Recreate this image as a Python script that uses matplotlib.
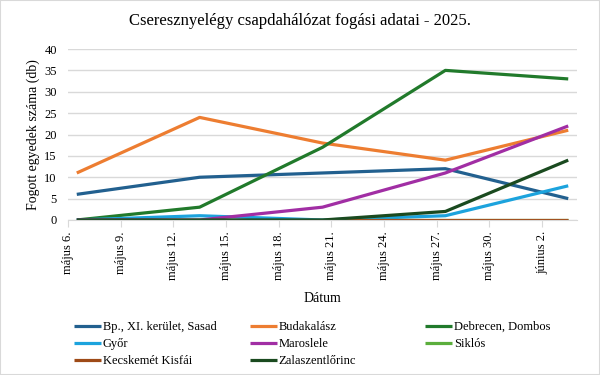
import matplotlib.pyplot as plt
import matplotlib.dates as mdates
from matplotlib.patches import Rectangle
import pandas as pd

plt.rcParams['font.family'] = ['Liberation Serif', 'DejaVu Serif']

# sampling dates (weekly)
dates = pd.to_datetime(['2025-05-06', '2025-05-13', '2025-05-20', '2025-05-27', '2025-06-03'])

bp_sasad = [6, 10, 11, 12, 5]
budakalasz = [11, 24, 18, 14, 21]
debrecen = [0, 3, 17, 35, 33]
gyor = [0, 1, 0, 1, 8]
maroslele = [0, 0, 3, 11, 22]
siklos = [0, 0, 0, 0, 0]
kecskemet = [0, 0, 0, 0, 0]
zalaszentlorinc = [0, 0, 0, 2, 14]

series = [
    ('Bp., XI. kerület, Sasad', bp_sasad, '#22608F'),
    ('Budakalász', budakalasz, '#ED7D31'),
    ('Debrecen, Dombos', debrecen, '#217A2B'),
    ('Győr', gyor, '#1CA3DD'),
    ('Maroslele', maroslele, '#A12EA4'),
    ('Siklós', siklos, '#5BAE3C'),
    ('Kecskemét Kisfái', kecskemet, '#9E4A17'),
    ('Zalaszentlőrinc', zalaszentlorinc, '#1A4A1F'),
]

fig = plt.figure(figsize=(6, 3.75), dpi=100)
ax = fig.add_axes([68 / 600, 1 - 220 / 375, (577 - 68) / 600, (220 - 49) / 375])

# Excel-style date axis: each point sits in the middle of its day
xs = dates + pd.Timedelta(hours=12)
handles = {}
for name, vals, color in series:
    h, = ax.plot(xs, vals, color=color, lw=2.3, solid_capstyle='butt', label=name)
    handles[name] = h

ax.set_xlim(pd.Timestamp('2025-05-06'), pd.Timestamp('2025-06-04'))
ax.set_ylim(0, 40)
ax.set_yticks(range(0, 41, 5))
ticks = pd.date_range('2025-05-06', '2025-06-02', freq='3D')
ax.set_xticks(ticks)
months = {5: 'május', 6: 'június'}
ax.set_xticklabels([f'{months[d.month]} {d.day}.' for d in ticks], rotation=90)

ax.grid(axis='y', color='#d9d9d9', lw=1)
ax.set_axisbelow(True)
for s in ['top', 'right', 'left']:
    ax.spines[s].set_visible(False)
ax.spines['bottom'].set_color('#d9d9d9')
ax.tick_params(axis='y', length=0, labelsize=9, pad=8)
ax.tick_params(axis='x', length=5, color='#d9d9d9', labelsize=9, pad=3)

ax.set_ylabel('Fogott egyedek száma (db)', fontsize=10)
ax.yaxis.set_label_coords(-0.055, 0.5)
fig.text(0.5 * (68 + 577) / 600, 1 - 298 / 375, 'Dátum', fontsize=10, ha='center', va='center')
fig.suptitle('Cseresznyelégy csapdahálózat fogási adatai - 2025.', fontsize=12, y=1 - 21 / 375, va='center')

# legend in three columns placed by hand
cols = [
    (74, ['Bp., XI. kerület, Sasad', 'Győr', 'Kecskemét Kisfái']),
    (250, ['Budakalász', 'Maroslele', 'Zalaszentlőrinc']),
    (425, ['Debrecen, Dombos', 'Siklós']),
]
for x0, names in cols:
    fig.legend([handles[n] for n in names], names, loc='upper left',
               bbox_to_anchor=(x0 / 600, 1 - 321 / 375), frameon=False,
               fontsize=9, handlelength=2.15, handletextpad=0.15,
               labelspacing=0.42, borderpad=0, borderaxespad=0)

fig.patches.append(Rectangle((0, 0), 1, 1, transform=fig.transFigure, fill=False,
                             edgecolor='#d9d9d9', lw=1.5))

fig.savefig('out.png', dpi=100, facecolor='white')
